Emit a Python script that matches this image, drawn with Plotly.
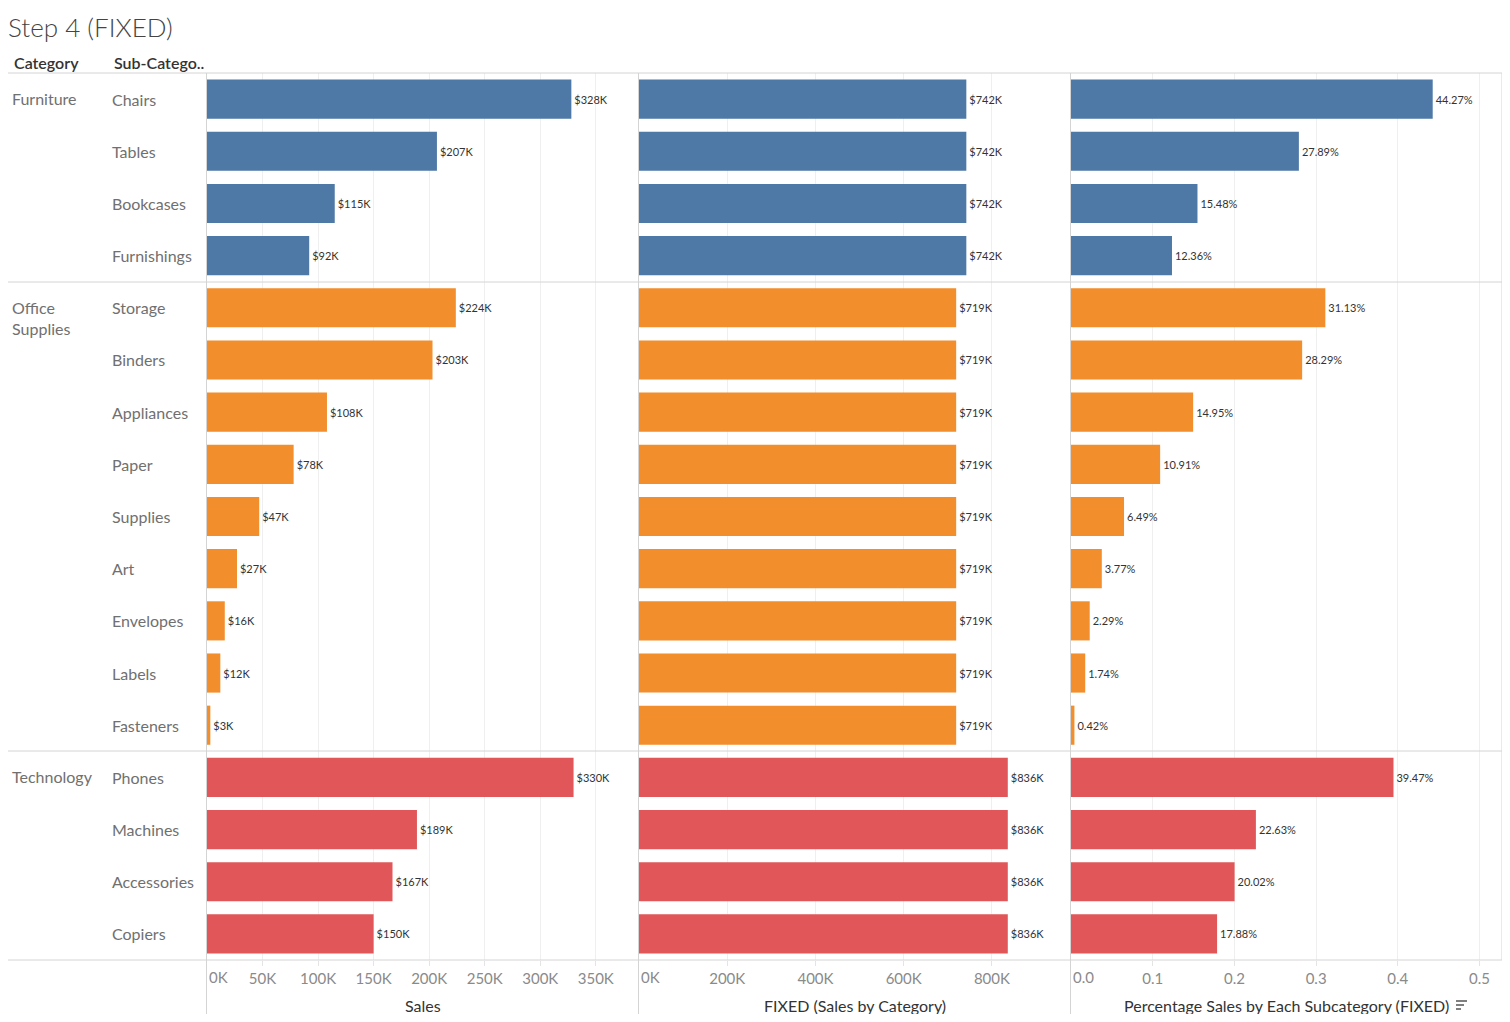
import plotly.graph_objects as go

# ---------------- data ----------------
categories = ["Furniture", "Office Supplies", "Technology"]
category_labels = ["Furniture", "Office<br>Supplies", "Technology"]
subcategories = [
    "Chairs", "Tables", "Bookcases", "Furnishings",
    "Storage", "Binders", "Appliances", "Paper", "Supplies", "Art",
    "Envelopes", "Labels", "Fasteners",
    "Phones", "Machines", "Accessories", "Copiers",
]
sub_category_of = [
    "Furniture", "Furniture", "Furniture", "Furniture",
    "Office Supplies", "Office Supplies", "Office Supplies", "Office Supplies",
    "Office Supplies", "Office Supplies", "Office Supplies", "Office Supplies",
    "Office Supplies",
    "Technology", "Technology", "Technology", "Technology",
]
sales_k = [328, 207, 115, 92, 224, 203, 108, 78, 47, 27, 16, 12, 3, 330, 189, 167, 150]
category_sales_k = {"Furniture": 742, "Office Supplies": 719, "Technology": 836}
pct_sales = [44.27, 27.89, 15.48, 12.36,
             31.13, 28.29, 14.95, 10.91, 6.49, 3.77, 2.29, 1.74, 0.42,
             39.47, 22.63, 20.02, 17.88]

sales_ticks = [0, 50, 100, 150, 200, 250, 300, 350]
fixed_ticks = [0, 200, 400, 600, 800]
pct_ticks = [0.0, 0.1, 0.2, 0.3, 0.4, 0.5]

colors = {"Furniture": "#4E79A7", "Office Supplies": "#F28E2B", "Technology": "#E15759"}

# ---------------- layout helpers ----------------
# the page body has an 8px margin, so the figure starts at (8, 8) on screen
OFF = 8
W, H = 1494, 1006
FONT = "Lato"


def X(px):
    return (px - OFF) / W


def Y(py):
    return 1 - (py - OFF) / H


bar_colors = [colors[c] for c in sub_category_of]
fixed_vals = [category_sales_k[c] for c in sub_category_of]

fig = go.Figure()

label_font = dict(family=FONT, size=11, color="#333333")

fig.add_trace(go.Bar(
    x=[v * 1000 for v in sales_k], y=subcategories, orientation="h",
    marker=dict(color=bar_colors, line=dict(width=0)), width=0.75,
    text=[f"${v}K" for v in sales_k], textposition="outside",
    textfont=label_font, cliponaxis=False,
    xaxis="x", yaxis="y", showlegend=False, hoverinfo="x+y",
))
fig.add_trace(go.Bar(
    x=[v * 1000 for v in fixed_vals], y=subcategories, orientation="h",
    marker=dict(color=bar_colors, line=dict(width=0)), width=0.75,
    text=[f"${v}K" for v in fixed_vals], textposition="outside",
    textfont=label_font, cliponaxis=False,
    xaxis="x2", yaxis="y", showlegend=False, hoverinfo="x+y",
))
fig.add_trace(go.Bar(
    x=[p / 100 for p in pct_sales], y=subcategories, orientation="h",
    marker=dict(color=bar_colors, line=dict(width=0)), width=0.75,
    text=[f"{p:.2f}%" for p in pct_sales], textposition="outside",
    textfont=label_font, cliponaxis=False,
    xaxis="x3", yaxis="y", showlegend=False, hoverinfo="x+y",
))

tick_font = dict(family=FONT, size=15, color="#8a8a8a")
common_x = dict(
    showgrid=True, gridcolor="#efefef", gridwidth=1, zeroline=False,
    showline=False, ticks="outside", ticklen=5, tickcolor="#e4e4e4",
    tickfont=tick_font, fixedrange=True,
)

fig.update_layout(
    width=W, height=H,
    margin=dict(l=0, r=0, t=0, b=0),
    paper_bgcolor="white", plot_bgcolor="white",
    font=dict(family=FONT, color="#333333"),
    bargap=0.25,
    xaxis=dict(domain=[X(207), X(638)], range=[0, 388000], anchor="y",
               tickvals=[t * 1000 for t in sales_ticks[1:]],
               ticktext=[f"{t}K" for t in sales_ticks[1:]], **common_x),
    xaxis2=dict(domain=[X(639), X(1070)], range=[0, 977000], anchor="y",
                tickvals=[t * 1000 for t in fixed_ticks[1:]],
                ticktext=[f"{t}K" for t in fixed_ticks[1:]], **common_x),
    xaxis3=dict(domain=[X(1071), X(1502)], range=[0, 0.5275], anchor="y",
                tickvals=pct_ticks[1:],
                ticktext=[f"{t:.1f}" for t in pct_ticks[1:]], **common_x),
    yaxis=dict(domain=[Y(960), Y(73)], type="category",
               categoryorder="array", categoryarray=subcategories,
               range=[len(subcategories) - 0.5, -0.5],
               showticklabels=False, showgrid=False, zeroline=False,
               showline=False, ticks="", fixedrange=True),
)

annotations = []
# title
annotations.append(dict(text="Step 4 (FIXED)", x=X(6), y=Y(27), xref="paper", yref="paper",
                        xanchor="left", yanchor="middle", showarrow=False,
                        font=dict(family=FONT, size=26, color="#444444", weight=300)))
# headers
for txt, px in [("Category", 12), ("Sub-Catego..", 112)]:
    annotations.append(dict(text=txt, x=X(px), y=Y(62), xref="paper", yref="paper",
                            xanchor="left", yanchor="middle", showarrow=False,
                            font=dict(family=FONT, size=16, color="#333333", weight=600)))
# sub-category labels
for s in subcategories:
    annotations.append(dict(text=s, x=X(110), y=s, xref="paper", yref="y",
                            xanchor="left", yanchor="middle", showarrow=False,
                            font=dict(family=FONT, size=16, color="#707070")))
# category labels
for c, lbl in zip(categories, category_labels):
    first = subcategories[sub_category_of.index(c)]
    annotations.append(dict(text=lbl, x=X(10), y=first, xref="paper", yref="y",
                            xanchor="left", yanchor="top", yshift=12, showarrow=False,
                            align="left",
                            font=dict(family=FONT, size=16, color="#707070")))
# zero tick labels (left aligned like the original)
for ax, txt in [("x", "0K"), ("x2", "0K"), ("x3", "0.0")]:
    annotations.append(dict(text=txt, x=0, y=Y(977), xref=ax, yref="paper",
                            xanchor="left", yanchor="middle", xshift=0, showarrow=False,
                            font=tick_font))
# axis titles
for txt, cx in [("Sales", (207 + 638) / 2), ("FIXED (Sales by Category)", (639 + 1070) / 2),
                ("Percentage Sales by Each Subcategory (FIXED)", (1071 + 1502) / 2)]:
    annotations.append(dict(text=txt, x=X(cx), y=Y(1005), xref="paper", yref="paper",
                            xanchor="center", yanchor="middle", showarrow=False,
                            font=dict(family=FONT, size=16, color="#333333")))
fig.update_layout(annotations=annotations)

shapes = []
line_col = "#d4d4d4"
# horizontal separators
for py in [73, 282, 751, 960]:
    shapes.append(dict(type="line", xref="paper", yref="paper", x0=X(6), x1=X(1502),
                       y0=Y(py), y1=Y(py), line=dict(color=line_col, width=1)))
# vertical separators
for px in [206.5, 638.5, 1070.5]:
    shapes.append(dict(type="line", xref="paper", yref="paper", x0=X(px), x1=X(px),
                       y0=Y(73), y1=0, line=dict(color=line_col, width=1)))
shapes.append(dict(type="line", xref="paper", yref="paper", x0=X(1502), x1=X(1502),
                   y0=Y(73), y1=Y(960), line=dict(color=line_col, width=1)))
# sort icon next to last axis title
for i, (x0, x1) in enumerate([(1456, 1467), (1456, 1464), (1456, 1461)]):
    py = 1001 + i * 4
    shapes.append(dict(type="line", xref="paper", yref="paper", x0=X(x0), x1=X(x1),
                       y0=Y(py), y1=Y(py), line=dict(color="#555555", width=1.5)))
fig.update_layout(shapes=shapes)

fig.write_html("out.html")
